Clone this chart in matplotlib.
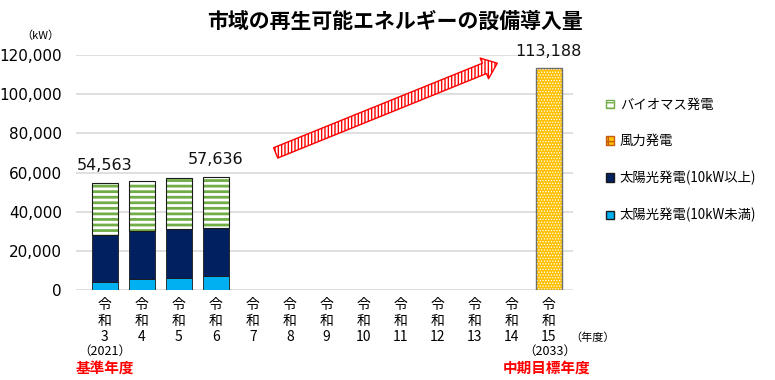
import numpy as np
import matplotlib
matplotlib.use("Agg")
import matplotlib.pyplot as plt
from matplotlib.patches import FancyArrowPatch, Patch

plt.rcParams['font.family'] = ['Noto Sans CJK JP', 'DejaVu Sans']

# data (kW)
years = ["3", "4", "5", "6", "7", "8", "9", "10", "11", "12", "13", "14", "15"]
solar_small = [4240, 5420, 5930, 7120, 0, 0, 0, 0, 0, 0, 0, 0, 0]
solar_large = [24060, 24580, 25070, 24740, 0, 0, 0, 0, 0, 0, 0, 0, 0]
wind = [0, 0, 0, 0, 0, 0, 0, 0, 0, 0, 0, 0, 113188]
biomass = [26263, 25900, 25950, 25776, 0, 0, 0, 0, 0, 0, 0, 0, 0]
labels_shown = {0: "54,563", 3: "57,636", 12: "113,188"}

c_small = "#00B0F0"
c_large = "#002060"
c_bio = "#70AD47"
c_wind = "#FFC000"

fig = plt.figure(figsize=(7.75, 3.8), dpi=100)
ax = fig.add_axes([0.098, 0.237, 0.641, 0.618])

x = np.arange(len(years))
w = 0.7
s1 = np.array(solar_small)
s2 = np.array(solar_large)
bio = np.array(biomass)
wd = np.array(wind)

ax.bar(x, s1, w, color=c_small, edgecolor="#1a1a1a", linewidth=0.6, zorder=3)
ax.bar(x, s2, w, bottom=s1, color=c_large, edgecolor="#1a1a1a", linewidth=0.6, zorder=3)

plt.rcParams['hatch.linewidth'] = 2.0
# biomass: green stripes on white
ax.bar(x, bio, w, bottom=s1 + s2, color="white", edgecolor=c_bio, hatch="---",
       linewidth=0, zorder=3)
ax.bar(x[bio > 0], bio[bio > 0], w, bottom=(s1 + s2)[bio > 0], fill=False,
       edgecolor="#1a1a1a", linewidth=0.8, zorder=4)

# wind: yellow with white dots
plt.rcParams['hatch.linewidth'] = 0.6
ax.bar(x, wd, w, bottom=s1 + s2 + bio, color=c_wind, edgecolor="white", hatch="......",
       linewidth=0, zorder=3)
ax.bar(x[wd > 0], wd[wd > 0], w, bottom=(s1 + s2 + bio)[wd > 0], fill=False,
       edgecolor="#6f6f6f", linewidth=1.0, zorder=4)

totals = s1 + s2 + bio + wd
for i, t in labels_shown.items():
    ax.text(x[i], totals[i] + 5000, t, ha="center", va="bottom", fontsize=11.5,
            family=['DejaVu Sans'], color="#111111")

ax.set_xlim(-0.78, 12.65)
ax.set_ylim(0, 120000)
ax.set_yticks(np.arange(0, 120001, 20000))
ax.set_yticklabels([f"{v:,}" for v in range(0, 120001, 20000)], fontsize=11,
                   family=['DejaVu Sans'])
ax.set_xticks(x)
ax.set_xticklabels([f"令\n和\n{y}" for y in years], fontsize=10, linespacing=1.15)
ax.tick_params(length=0, pad=6)
ax.tick_params(axis="y", pad=10)
ax.grid(axis="y", color="#d9d9d9", linewidth=1.2, zorder=0)
for s in ax.spines.values():
    s.set_visible(False)
ax.set_axisbelow(True)

# arrow (hatched red)
plt.rcParams['hatch.linewidth'] = 1.0
arr = FancyArrowPatch((4.55, 69500), (10.68, 116400),
                      arrowstyle="simple,head_width=1.6,head_length=1.0,tail_width=0.8",
                      mutation_scale=10, facecolor="white", edgecolor="red",
                      hatch="|||||", linewidth=1.0, zorder=5)
ax.add_patch(arr)

fig.text(0.51, 0.945, "市域の再生可能エネルギーの設備導入量", ha="center", va="center",
         fontsize=15, fontweight="bold")
fig.text(0.052, 0.905, "（kW）", ha="center", va="center", fontsize=8)
fig.text(0.765, 0.112, "（年度）", ha="center", va="center", fontsize=8)
fig.text(0.135, 0.075, "（2021）", ha="center", va="center", fontsize=9)
fig.text(0.135, 0.032, "基準年度", ha="center", va="center", fontsize=10.5,
         color="red", fontweight="bold")
fig.text(0.709, 0.075, "（2033）", ha="center", va="center", fontsize=9)
fig.text(0.705, 0.032, "中期目標年度", ha="center", va="center", fontsize=10.5,
         color="red", fontweight="bold")

handles = [
    Patch(facecolor="white", edgecolor=c_bio, hatch="---", label="バイオマス発電"),
    Patch(facecolor=c_wind, edgecolor="#c55a11", hatch="+", label="風力発電"),
    Patch(facecolor=c_large, edgecolor="#1a1a1a", label="太陽光発電(10kW以上)"),
    Patch(facecolor=c_small, edgecolor="#1a1a1a", label="太陽光発電(10kW未満)"),
]
fig.legend(handles=handles, loc="upper left", bbox_to_anchor=(0.767, 0.775),
           frameon=False, fontsize=9.6, handlelength=0.6, handleheight=0.6,
           handletextpad=0.4, labelspacing=1.7)

fig.savefig("out.png", dpi=100)
